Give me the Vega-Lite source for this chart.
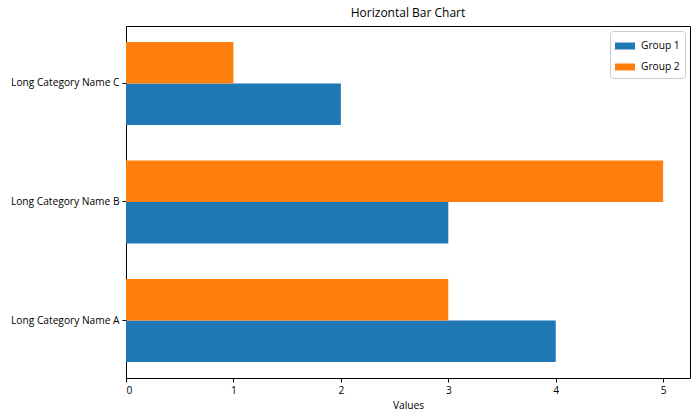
{
  "$schema": "https://vega.github.io/schema/vega-lite/v6.json",
  "autosize": "none",
  "width": 564,
  "height": 352,
  "padding": {"left": 126, "top": 26, "right": 10, "bottom": 42},
  "background": "white",
  "config": {
    "font": "Open Sans",
    "view": {"stroke": "black", "strokeWidth": 1},
    "axis": {"grid": false, "domain": false, "tickColor": "black", "tickSize": 4, "labelColor": "black", "labelFontSize": 10.2, "labelFont": "Open Sans", "titleFont": "Open Sans", "titleFontSize": 10.2, "titleFontWeight": "normal", "titleColor": "black"}
  },
  "title": {"text": "Horizontal Bar Chart", "fontSize": 12, "fontWeight": "normal", "font": "Open Sans", "color": "black", "offset": 6},
  "data": {
    "values": [
      {"category": "Long Category Name A", "group": "Group 1", "value": 4},
      {"category": "Long Category Name A", "group": "Group 2", "value": 3},
      {"category": "Long Category Name B", "group": "Group 1", "value": 3},
      {"category": "Long Category Name B", "group": "Group 2", "value": 5},
      {"category": "Long Category Name C", "group": "Group 1", "value": 2},
      {"category": "Long Category Name C", "group": "Group 2", "value": 1}
    ]
  },
  "mark": {"type": "bar", "cornerRadius": 0},
  "encoding": {
    "y": {
      "field": "category", "type": "nominal",
      "sort": ["Long Category Name C", "Long Category Name B", "Long Category Name A"],
      "scale": {"paddingInner": 0.3, "paddingOuter": 0.135},
      "axis": {"title": null, "labelPadding": 3}
    },
    "yOffset": {
      "field": "group", "type": "nominal",
      "sort": ["Group 2", "Group 1"],
      "scale": {"paddingInner": 0, "paddingOuter": 0}
    },
    "x": {
      "field": "value", "type": "quantitative",
      "scale": {"domain": [0, 5.25], "nice": false, "zero": true},
      "axis": {"title": "Values", "values": [0, 1, 2, 3, 4, 5], "format": "d", "labelPadding": 3, "titlePadding": 5}
    },
    "color": {
      "field": "group", "type": "nominal",
      "scale": {"domain": ["Group 1", "Group 2"], "range": ["#1f77b4", "#ff7f0e"]},
      "legend": {
        "title": null, "orient": "top-right", "offset": 5,
        "symbolType": "M-1,-0.35H1V0.35H-1Z", "symbolSize": 400, "symbolStrokeWidth": 0,
        "labelFontSize": 10.2, "labelFont": "Open Sans", "labelColor": "black",
        "strokeColor": "#cccccc", "fillColor": "rgba(255,255,255,0.8)", "cornerRadius": 3,
        "padding": 5, "rowPadding": 5, "labelOffset": 6
      }
    }
  }
}
